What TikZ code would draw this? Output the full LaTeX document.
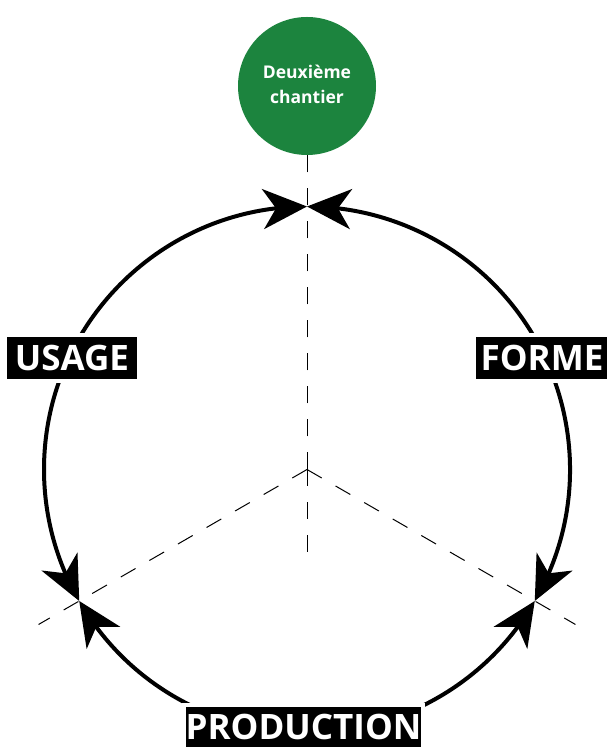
\documentclass[tikz,border=0pt]{standalone}
\usepackage{fontspec}
\setmainfont{Open Sans}
\usetikzlibrary{arrows.meta,bending,calc}
\definecolor{chgreen}{RGB}{28,132,62}
\begin{document}
\begin{tikzpicture}[x=1pt,y=1pt,
  cyc/.style={line width=4pt,
    {Stealth[length=44pt,width=40pt,inset=13pt]}-{Stealth[length=44pt,width=40pt,inset=13pt]}},
  axis/.style={line width=1pt,dash pattern=on 17pt off 16pt},
  lbl/.style={fill=black,text=white,font=\fontsize{35}{38}\selectfont\bfseries,
    text height=25pt,text depth=0pt,inner xsep=0pt,inner ysep=8.5pt,
    preaction={draw=white,line width=8pt}},
  bubble/.style={circle,fill=chgreen,text=white,minimum size=138pt,inner sep=0pt}
]
\useasboundingbox (0,0) rectangle (606,747);
% geometry
\coordinate (c) at (307,277.5);
\coordinate (jt) at ($(c)+(90:263)$);
\coordinate (jl) at ($(c)+(210:263)$);
\coordinate (jr) at ($(c)+(330:263)$);
\coordinate (ut) at (307,592);
\coordinate (ub) at (307,184);
\coordinate (ul) at ($(c)+(210:310)$);
\coordinate (ur) at ($(c)+(330:310)$);
% dashed axes
\draw[axis] (c) -- (ut);
\draw[axis] (c) -- (ub);
\draw[axis] (c) -- (ul);
\draw[axis] (c) -- (ur);
% cycle arcs
\draw[cyc] (jt) arc[start angle=90,end angle=210,radius=263];
\draw[cyc] (jl) arc[start angle=210,end angle=330,radius=263];
\draw[cyc] (jr) arc[start angle=330,end angle=450,radius=263];
% labels
\node[lbl,minimum width=130pt] (usage) at (72,389) {USAGE};
\node[lbl,minimum width=132pt] (forme) at (542,389) {FORME};
\node[lbl,minimum width=233pt,inner ysep=7.5pt] (prod) at (303.5,20) {PRODUCTION};
% green bubble
\node[bubble] (dc) at (307,661) {};
\node[text=white,align=center,font=\fontsize{17.5}{25}\selectfont\bfseries] (dct) at (307,663) {Deuxième\\chantier};
\end{tikzpicture}
\end{document}
